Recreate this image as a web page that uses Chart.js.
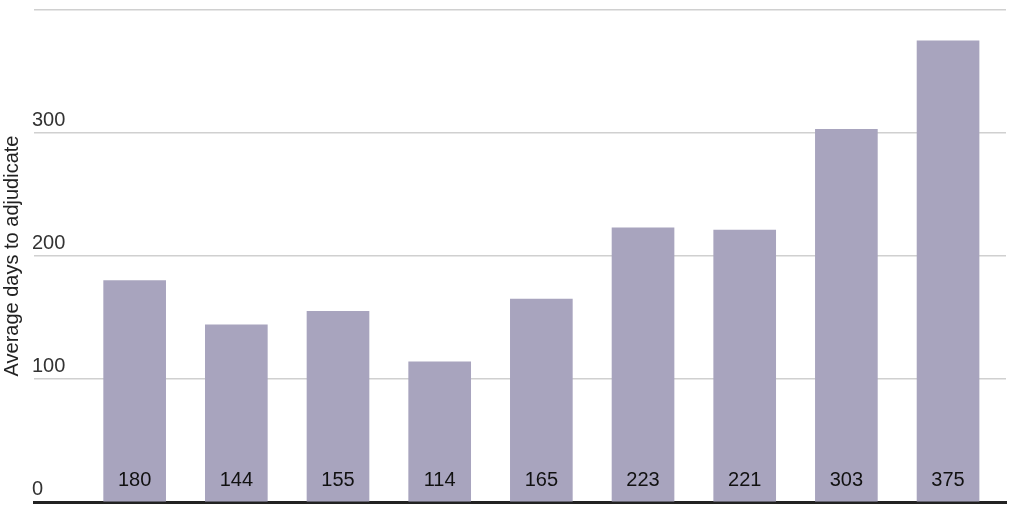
<!DOCTYPE html>
<html><head><meta charset="utf-8">
<script src="https://cdn.jsdelivr.net/npm/chart.js@4"></script>
<style>html,body{margin:0;padding:0;background:#fff}#w{width:1024px;height:512px}</style>
</head><body><div id="w"><canvas id="c"></canvas></div>
<script>
const categories = ["1","2","3","4","5","6","7","8","9"];
const values = [180,144,155,114,165,223,221,303,375];
const yTicks = [0,100,200,300,400];

const labelPlugin = {
  id:'lbl',
  afterDatasetsDraw(chart){
    const ctx=chart.ctx, meta=chart.getDatasetMeta(0), y0=chart.scales.y.getPixelForValue(0);
    ctx.save();ctx.fillStyle='#111';ctx.font='20px "Liberation Sans", Arial';ctx.textAlign='center';ctx.textBaseline='alphabetic';
    meta.data.forEach((b,i)=>ctx.fillText(String(values[i]), b.x, y0-16));
    ctx.restore();
  }
};
new Chart(document.getElementById('c'),{
  type:'bar',
  data:{datasets:[{data:values.map((v,i)=>({x:i,y:v})),backgroundColor:'#a8a4be',barThickness:62}]},
  options:{
    responsive:true,maintainAspectRatio:false,animation:false,
    layout:{padding:{left:0,right:18,top:2,bottom:0}},
    plugins:{legend:{display:false},tooltip:{enabled:false}},
    scales:{
      x:{type:'linear',min:-0.99,max:8.57,offset:false,ticks:{display:false},grid:{display:false,drawTicks:false},border:{display:true,color:'#222',width:3}},
      y:{min:0,max:400,afterBuildTicks:s=>{s.ticks=yTicks.map(v=>({value:v}))},
        ticks:{mirror:true,padding:-2,labelOffset:-13,color:'#333',font:{size:20,family:'"Liberation Sans", Arial'},callback:v=>v===400?'':String(v)},
        grid:{color:'#d0d0d0',lineWidth:1.5,drawTicks:false},border:{display:false},
        title:{display:true,text:'Average days to adjudicate',color:'#222',font:{size:20,family:'"Liberation Sans", Arial'},padding:{top:0,bottom:14}}}
    }
  },
  plugins:[labelPlugin]
});
</script></body></html>
